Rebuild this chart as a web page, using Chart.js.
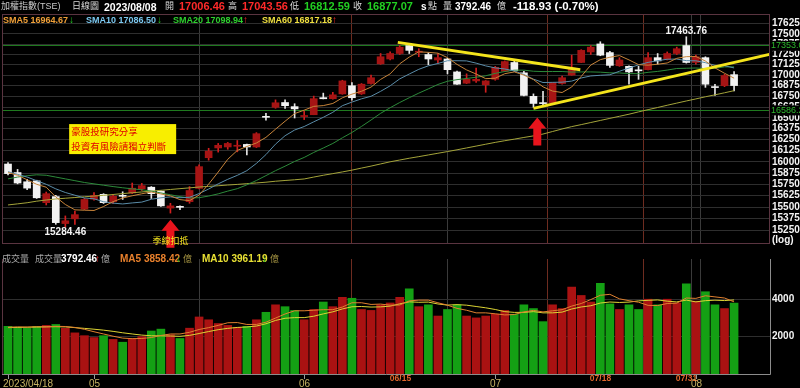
<!DOCTYPE html>
<html>
<head>
<meta charset="utf-8">
<title>加權指數 日線圖</title>
<script src="https://cdn.jsdelivr.net/npm/chart.js@4.4.1/dist/chart.umd.min.js"></script>
<style>
  html, body { margin: 0; padding: 0; background: #000; }
  body { width: 800px; height: 388px; position: relative; overflow: hidden;
         font-family: "Liberation Sans", Arial, "Noto Sans CJK TC", sans-serif; }
  canvas { position: absolute; left: 0; }
  #priceChart { top: 0; }
  #volumeChart { top: 251px; }
  .t { position: absolute; white-space: nowrap; line-height: 1; font-size: 10px; color: #d8d8d8; }
  .c { font-size: 9px; }
  .b { font-weight: bold; }
  .red { color: #ff2a2a; }
  .grn { color: #22d022; }
  .w { color: #fff; }
</style>
</head>
<body>
<canvas id="priceChart" width="800" height="251"></canvas>
<canvas id="volumeChart" width="800" height="137"></canvas>

<!-- header row -->
<span class="t c" style="left:1px;top:2px;color:#c8c8c8">加權指數(TSE)</span>
<span class="t c" style="left:72px;top:2px">日線圖</span>
<span class="t b w" style="left:104px;top:2px;font-size:10.5px">2023/08/08</span>
<span class="t c" style="left:165px;top:2px">開</span>
<span class="t b red" style="left:179px;top:1px;font-size:11px">17006.46</span>
<span class="t c" style="left:228px;top:2px">高</span>
<span class="t b red" style="left:242px;top:1px;font-size:11px">17043.56</span>
<span class="t c" style="left:290px;top:2px">低</span>
<span class="t b grn" style="left:304px;top:1px;font-size:11px">16812.59</span>
<span class="t c" style="left:353px;top:2px">收</span>
<span class="t b grn" style="left:367px;top:1px;font-size:11px">16877.07</span>
<span class="t b w" style="left:421px;top:2px">s</span>
<span class="t c" style="left:428px;top:2px">點</span>
<span class="t c" style="left:443px;top:2px">量</span>
<span class="t b w" style="left:455px;top:2px">3792.46</span>
<span class="t c" style="left:497px;top:2px">億</span>
<span class="t b w" style="left:513px;top:1px;font-size:11.5px">-118.93 (-0.70%)</span>

<!-- moving average row -->
<span class="t b" style="left:3px;top:16px;font-size:9px;color:#f0a038">SMA5 16964.67</span>
<span class="t grn b" style="left:69px;top:15px;font-size:10px">↓</span>
<span class="t b" style="left:86px;top:16px;font-size:9px;color:#7cc8f0">SMA10 17086.50</span>
<span class="t grn b" style="left:157px;top:15px;font-size:10px">↓</span>
<span class="t b" style="left:173px;top:16px;font-size:9px;color:#2ed02e">SMA20 17098.94</span>
<span class="t red b" style="left:243px;top:15px;font-size:10px">↑</span>
<span class="t b" style="left:262px;top:16px;font-size:9px;color:#f0e040">SMA60 16817.18</span>
<span class="t red b" style="left:332px;top:15px;font-size:10px">↑</span>

<!-- volume row -->
<span class="t c" style="left:2px;top:255px;color:#a8a8a8">成交量</span>
<span class="t c" style="left:35px;top:255px;color:#a8a8a8">成交量</span>
<span class="t b w" style="left:61px;top:254px">3792.46</span>
<span class="t red b" style="left:95px;top:254px">↑</span>
<span class="t c" style="left:101px;top:255px;color:#a8a8a8">億</span>
<span class="t b" style="left:120px;top:254px;color:#e8802c">MA5 3858.42</span>
<span class="t grn b" style="left:176px;top:254px">↓</span>
<span class="t c" style="left:183px;top:255px;color:#a09040">億</span>
<span class="t b" style="left:202px;top:254px;color:#e8e034">MA10 3961.19</span>
<span class="t grn b" style="left:262px;top:254px">↓</span>
<span class="t c" style="left:270px;top:255px;color:#a09040">億</span>

<script>
// daily candles, 2023/04/18 .. 2023/08/08 (index = trading day)
const opens = [15975, 15880, 15778, 15788, 15549, 15615, 15323, 15374, 15479, 15587,
  15640, 15560, 15622, 15655, 15700, 15718, 15676, 15490, 15502, 15560,
  15705, 16046, 16156, 16167, 16175, 16196, 16167, 16512, 16622, 16678,
  16630, 16515, 16536, 16735, 16723, 16779, 16875, 16779, 16901, 17136,
  17194, 17260, 17356, 17276, 17248, 17182, 17194, 17039, 16905, 16932,
  16886, 16951, 17047, 17152, 17028, 16750, 16670, 16675, 16901, 17001,
  17152, 17279, 17376, 17271, 17113, 17106, 17056, 17066, 17210, 17190,
  17260, 17356, 17152, 17210, 16858, 16875, 17006.46];
const highs = [15990, 15915, 15805, 15795, 15665, 15629, 15405, 15458, 15595, 15658,
  15647, 15640, 15668, 15764, 15760, 15725, 15682, 15542, 15514, 15725,
  15967, 16152, 16207, 16218, 16240, 16200, 16330, 16552, 16709, 16709,
  16664, 16575, 16753, 16788, 16798, 16940, 16913, 16901, 17001, 17260,
  17279, 17356, 17376, 17318, 17271, 17260, 17202, 17050, 17016, 17085,
  16936, 17106, 17171, 17171, 17047, 16779, 16810, 16915, 16989, 17240,
  17306, 17356, 17403, 17287, 17210, 17113, 17106, 17271, 17260, 17279,
  17337, 17463.76, 17240, 17221, 16893, 17010, 17043.56];
const lows = [15855, 15755, 15690, 15595, 15524, 15315, 15284.46, 15315, 15472, 15576,
  15540, 15540, 15584, 15647, 15682, 15594, 15507, 15436, 15472, 15542,
  15700, 16018, 16109, 16141, 16112, 16077, 16160, 16472, 16611, 16608,
  16498, 16480, 16536, 16720, 16716, 16775, 16704, 16772, 16893, 17130,
  17182, 17248, 17260, 17221, 17124, 17144, 17016, 16890, 16900, 16913,
  16798, 16940, 17045, 17047, 16755, 16622, 16650, 16670, 16893, 17000,
  17150, 17248, 17233, 17094, 17106, 16893, 16951, 17062, 17133, 17182,
  17248, 17144, 17133, 16856, 16761, 16864, 16812.59];
const closes = [15868, 15764, 15708, 15602, 15647, 15333, 15353, 15419, 15584, 15629,
  15549, 15619, 15618, 15707, 15735, 15647, 15514, 15514, 15498, 15682,
  15946, 16120, 16186, 16207, 16180, 16167, 16318, 16506, 16675, 16641,
  16604, 16520, 16723, 16722, 16768, 16932, 16734, 16893, 16970, 17221,
  17260, 17337, 17298, 17282, 17194, 17210, 17066, 16893, 16951, 16951,
  16932, 17094, 17163, 17054, 16761, 16667, 16665, 16913, 16970, 17085,
  17298, 17337, 17240, 17117, 17182, 17039, 17052, 17210, 17171, 17260,
  17318, 17152, 17221, 16893, 16853, 16996, 16877.07];

// moving averages as drawn on the chart
const sma5 = [15880, 15850, 15800, 15750, 15718, 15611, 15529, 15471, 15467, 15464,
  15507, 15560, 15600, 15624, 15646, 15665, 15644, 15623, 15582, 15571,
  15631, 15752, 15886, 16028, 16128, 16172, 16212, 16276, 16369, 16461,
  16549, 16589, 16633, 16642, 16667, 16733, 16776, 16810, 16859, 16950,
  17016, 17136, 17217, 17280, 17274, 17264, 17210, 17129, 17063, 17014,
  16959, 16964, 17018, 17039, 17001, 16948, 16862, 16812, 16795, 16860,
  16986, 17121, 17186, 17215, 17235, 17183, 17126, 17120, 17131, 17146,
  17202, 17222, 17224, 17169, 17087, 17023, 16964.67];
const sma10 = [15890, 15860, 15830, 15790, 15750, 15700, 15660, 15630, 15600, 15591,
  15559, 15544, 15535, 15546, 15555, 15586, 15602, 15612, 15603, 15608,
  15648, 15698, 15755, 15805, 15849, 15901, 15982, 16081, 16199, 16295,
  16360, 16400, 16454, 16506, 16564, 16641, 16683, 16721, 16751, 16809,
  16874, 16956, 17014, 17070, 17112, 17140, 17173, 17173, 17171, 17144,
  17111, 17087, 17074, 17051, 17008, 16953, 16913, 16915, 16917, 16930,
  16967, 16991, 16999, 17005, 17047, 17085, 17123, 17153, 17173, 17191,
  17193, 17174, 17172, 17150, 17117, 17113, 17086.50];
const sma20 = [15810, 15830, 15845, 15855, 15850, 15830, 15810, 15790, 15770, 15755,
  15740, 15725, 15712, 15700, 15690, 15675, 15655, 15635, 15615, 15600,
  15603, 15621, 15645, 15675, 15702, 15744, 15792, 15846, 15901, 15951,
  16004, 16049, 16105, 16155, 16207, 16271, 16332, 16401, 16475, 16552,
  16617, 16678, 16734, 16788, 16838, 16890, 16928, 16947, 16961, 16976,
  16993, 17022, 17044, 17060, 17060, 17047, 17043, 17044, 17044, 17037,
  17039, 17039, 17036, 17028, 17027, 17019, 17018, 17034, 17045, 17061,
  17080, 17083, 17086, 17078, 17082, 17099, 17098.94];
const sma60 = [15524, 15536, 15548, 15565, 15578, 15589, 15597, 15605, 15613, 15621,
  15629, 15638, 15648, 15657, 15666, 15675, 15684, 15693, 15702, 15711,
  15720, 15727, 15734, 15742, 15749, 15757, 15765, 15773, 15784, 15792,
  15800, 15809, 15830, 15850, 15868, 15887, 15907, 15930, 15952, 15976,
  16000, 16020, 16040, 16058, 16077, 16096, 16115, 16135, 16156, 16177,
  16198, 16219, 16238, 16256, 16275, 16293, 16314, 16343, 16372, 16399,
  16422, 16446, 16470, 16494, 16518, 16542, 16569, 16595, 16620, 16646,
  16671, 16696, 16720, 16745, 16768, 16792, 16817.18];

// turnover (億)
const volumes = [2550, 2500, 2450, 2550, 2600, 2650, 2450, 2200, 2050, 1950,
  2050, 1850, 1700, 1900, 2000, 2300, 2400, 2100, 1900, 2450,
  3050, 2900, 2700, 2600, 2500, 2550, 2900, 3300, 3700, 3600,
  3400, 2900, 3450, 3850, 3600, 4100, 4050, 3450, 3400, 3700,
  3800, 4100, 4550, 3600, 3700, 3100, 3450, 3700, 3100, 3000,
  3100, 3200, 3400, 3200, 3700, 3500, 2800, 3700, 3500, 4650,
  4200, 3850, 4850, 3750, 3450, 3700, 3450, 4000, 3700, 4000,
  3800, 4820, 3900, 4400, 3700, 3500, 3792.46];
const volMa5 = [2500, 2520, 2510, 2530, 2530, 2550, 2540, 2490, 2390, 2260,
  2140, 2020, 1920, 1890, 1900, 1950, 2060, 2140, 2140, 2230,
  2380, 2480, 2600, 2740, 2750, 2650, 2650, 2770, 2990, 3210,
  3380, 3380, 3410, 3440, 3440, 3580, 3810, 3810, 3720, 3740,
  3680, 3690, 3910, 3950, 3950, 3810, 3680, 3510, 3410, 3270,
  3270, 3220, 3160, 3180, 3320, 3400, 3320, 3380, 3440, 3630,
  3770, 3980, 4210, 4260, 4020, 3920, 3840, 3670, 3660, 3770,
  3790, 4064, 4044, 4184, 4124, 4064, 3858.42];
const volMa10 = [2480, 2490, 2500, 2510, 2520, 2530, 2520, 2480, 2440, 2395,
  2345, 2280, 2205, 2140, 2080, 2045, 2040, 2030, 2015, 2065,
  2165, 2270, 2370, 2440, 2490, 2515, 2565, 2685, 2865, 2980,
  3015, 3015, 3090, 3215, 3325, 3480, 3595, 3610, 3580, 3590,
  3630, 3750, 3860, 3835, 3845, 3745, 3685, 3710, 3680, 3610,
  3540, 3450, 3335, 3295, 3295, 3335, 3270, 3270, 3310, 3475,
  3585, 3650, 3795, 3850, 3825, 3845, 3910, 3940, 3960, 3895,
  3855, 3952, 3857, 3922, 3947, 3927, 3961.19];

// axis ticks
const priceTicks = [15250, 15375, 15500, 15625, 15750, 15875, 16000, 16125, 16250,
  16375, 16500, 16625, 16750, 16875, 17000, 17125, 17250, 17375, 17500, 17625];
const keyLevels = [17353.0, 16586.2];
const volumeTicks = [2000, 4000];
const dateTicks = [0, 9, 31, 41, 51, 62, 71, 72];
const dateLabels = ['2023/04/18', '05', '06', '06/15', '07', '07/18', '07/31', '08'];
const markedDates = ['06/15', '07/18', '07/31'];

// drawn trend lines [day index, price]
const trendDown = [[40.8, 17395], [59.9, 17066]];
const trendUp = [[55.0, 16610], [79.7, 17250]];

// annotations
const noteLines = ['豪股投研究分享', '投資有風險請獨立判斷'];
const noteAt = [6.4, 16428];
const arrowTips = [[17, 15364], [55.4, 16505]];
const arrowText = '季線扣抵';

const X_MIN = -0.63, X_MAX = 79.76;
const days = closes.map((c, i) => i);
const isUp = days.map(i => closes[i] >= opens[i]);

const FONT = '"Liberation Sans", Arial, sans-serif';
const CJK = '"Noto Sans CJK TC", sans-serif';

function sized(scale, w) { scale.width = w; }

function xAxis() {
  return {
    type: 'linear', min: X_MIN, max: X_MAX, offset: false,
    afterBuildTicks: s => { s.ticks = dateTicks.slice(1).map(v => ({ value: v })); },
    ticks: { display: false },
    grid: {
      drawTicks: false,
      color: ctx => {
        const k = dateTicks.indexOf(ctx.tick && ctx.tick.value);
        return markedDates.includes(dateLabels[k]) ? '#6e2c20' : '#3a3a3a';
      }
    },
    border: { display: false }
  };
}

function upArrow(ctx, cx, tip, len) {
  ctx.beginPath();
  ctx.moveTo(cx, tip);
  ctx.lineTo(cx + 9, tip + 11);
  ctx.lineTo(cx + 4, tip + 11);
  ctx.lineTo(cx + 4, tip + len);
  ctx.lineTo(cx - 4, tip + len);
  ctx.lineTo(cx - 4, tip + 11);
  ctx.lineTo(cx - 9, tip + 11);
  ctx.closePath();
  ctx.fill();
}

const priceDecor = {
  id: 'priceDecor',
  afterDatasetsDraw(chart) {
    const { ctx, chartArea: a, scales: { x, y } } = chart;
    ctx.save();
    ctx.strokeStyle = '#5a3440';
    ctx.lineWidth = 1;
    ctx.strokeRect(a.left + 0.5, a.top + 0.5, a.right - a.left - 1, a.bottom - a.top);

    // note box
    const bx = x.getPixelForValue(noteAt[0]), by = y.getPixelForValue(noteAt[1]);
    ctx.fillStyle = '#f8ee00';
    ctx.fillRect(bx, by, 107, 30);
    ctx.fillStyle = '#e00000';
    ctx.font = '9.5px ' + CJK;
    ctx.textBaseline = 'middle';
    ctx.textAlign = 'left';
    ctx.fillText(noteLines[0], bx + 2, by + 7);
    ctx.fillText(noteLines[1], bx + 2, by + 22);

    // arrows
    ctx.fillStyle = '#e8141c';
    arrowTips.forEach(([d, p]) => upArrow(ctx, x.getPixelForValue(d), y.getPixelForValue(p), 28));
    ctx.fillStyle = '#f2e21e';
    ctx.font = '9px ' + CJK;
    ctx.textAlign = 'center';
    ctx.fillText(arrowText, x.getPixelForValue(arrowTips[0][0]), 241);

    // extremes
    ctx.fillStyle = '#f4f4f4';
    ctx.font = 'bold 10px ' + FONT;
    const lo = lows.indexOf(Math.min(...lows));
    const hi = highs.indexOf(Math.max(...highs));
    ctx.textBaseline = 'top';
    ctx.fillText(lows[lo].toFixed(2), x.getPixelForValue(lo), y.getPixelForValue(lows[lo]) + 0.5);
    ctx.textBaseline = 'bottom';
    ctx.fillText(highs[hi].toFixed(2), x.getPixelForValue(hi), y.getPixelForValue(highs[hi]) - 0.5);

    ctx.textAlign = 'left';
    ctx.textBaseline = 'middle';
    ctx.fillText('(log)', a.right + 2, a.bottom - 3);
    ctx.restore();
  },
  afterDraw(chart) {
    // key level tags on the price axis, boxed over the regular labels
    const { ctx, chartArea: a, scales: { y } } = chart;
    ctx.save();
    ctx.font = '9px ' + FONT;
    ctx.textAlign = 'left';
    ctx.textBaseline = 'middle';
    keyLevels.forEach(v => {
      const py = y.getPixelForValue(v);
      ctx.fillStyle = '#000';
      ctx.fillRect(a.right + 1, py - 5, 29, 10);
      ctx.fillStyle = '#2cb82c';
      ctx.fillText(v.toFixed(1), a.right + 1, py);
    });
    ctx.restore();
  }
};

const volumeDecor = {
  id: 'volumeDecor',
  afterDatasetsDraw(chart) {
    const { ctx, chartArea: a, scales: { x } } = chart;
    ctx.save();
    ctx.strokeStyle = '#8c8c8c';
    ctx.lineWidth = 1;
    ctx.beginPath();
    ctx.moveTo(a.left, a.bottom + 0.5);
    ctx.lineTo(a.right + 0.5, a.bottom + 0.5);
    ctx.lineTo(a.right + 0.5, a.top);
    ctx.stroke();
    ctx.strokeStyle = '#5a3440';
    ctx.beginPath();
    ctx.moveTo(a.left + 0.5, a.top);
    ctx.lineTo(a.left + 0.5, a.bottom);
    ctx.stroke();

    dateTicks.forEach((d, k) => {
      const px = Math.round(x.getPixelForValue(d)) + 0.5;
      const marked = markedDates.includes(dateLabels[k]);
      ctx.strokeStyle = '#9a9a9a';
      ctx.beginPath();
      ctx.moveTo(px, a.bottom + 1);
      ctx.lineTo(px, a.bottom + 5);
      ctx.stroke();
      ctx.textBaseline = 'middle';
      if (marked) {
        ctx.fillStyle = '#e0662c';
        ctx.font = 'bold 8.5px ' + FONT;
        ctx.textAlign = 'center';
        ctx.fillText(dateLabels[k], px, a.bottom + 5);
      } else {
        ctx.fillStyle = '#c8b464';
        ctx.font = '10px ' + FONT;
        ctx.textAlign = k === 0 ? 'left' : 'center';
        ctx.fillText(dateLabels[k], k === 0 ? 3 : px, a.bottom + 10);
      }
    });
    ctx.restore();
  }
};

const maLine = (data, color) => ({
  type: 'line',
  data: data.map((v, i) => ({ x: i, y: v })),
  borderColor: color, borderWidth: 1, pointRadius: 0, tension: 0, order: 1
});
const segment = (pts, color, w) => ({
  type: 'line',
  data: pts.map(([d, p]) => ({ x: d, y: p })),
  borderColor: color, borderWidth: w, pointRadius: 0, order: 0
});

new Chart(document.getElementById('priceChart'), {
  type: 'bar',
  data: {
    datasets: [
      segment(trendDown, '#f4e41c', 3),
      segment(trendUp, '#f4e41c', 3),
      maLine(sma5, '#c8843a'),
      maLine(sma10, '#5a8ca8'),
      maLine(sma20, '#2c8a3a'),
      maLine(sma60, '#a4a43a'),
      {
        data: days.map(i => ({ x: i, y: [opens[i], closes[i]] })),
        backgroundColor: days.map(i => isUp[i] ? '#a61414' : '#f2f2f2'),
        barThickness: 7, minBarLength: 1, grouped: false, order: 5
      },
      {
        data: days.map(i => ({ x: i, y: [lows[i], highs[i]] })),
        backgroundColor: days.map(i => isUp[i] ? '#d21e1e' : '#e4e4e4'),
        barThickness: 1, grouped: false, order: 6
      }
    ]
  },
  options: {
    responsive: false,
    animation: false,
    events: [],
    layout: { padding: { top: 14, left: 2, right: 0, bottom: 0 } },
    plugins: { legend: { display: false }, tooltip: { enabled: false } },
    scales: {
      x: xAxis(),
      y: {
        type: 'logarithmic', position: 'right', min: 15116, max: 17744,
        afterBuildTicks: s => { s.ticks = priceTicks.concat(keyLevels).map(v => ({ value: v })); },
        afterFit: s => sized(s, 30),
        ticks: {
          autoSkip: false, padding: 2,
          callback: v => keyLevels.includes(v) ? '' : String(v),
          color: '#f4f4f4',
          font: { family: FONT, size: 10, weight: 'bold' }
        },
        grid: {
          drawTicks: false,
          color: ctx => keyLevels.includes(ctx.tick && ctx.tick.value) ? '#1f7a1f' : '#2e2e2e'
        },
        border: { display: false }
      }
    }
  },
  plugins: [priceDecor]
});

new Chart(document.getElementById('volumeChart'), {
  type: 'bar',
  data: {
    datasets: [
      maLine(volMa5, '#e08030'),
      maLine(volMa10, '#dcd434'),
      {
        data: days.map(i => ({ x: i, y: volumes[i] })),
        backgroundColor: days.map(i => isUp[i] ? '#aa1212' : '#14a014'),
        barThickness: 8, grouped: false, order: 5
      }
    ]
  },
  options: {
    responsive: false,
    animation: false,
    events: [],
    layout: { padding: { top: 0, left: 2, right: 0, bottom: 14 } },
    plugins: { legend: { display: false }, tooltip: { enabled: false } },
    scales: {
      x: xAxis(),
      y: {
        position: 'right', min: 0, max: 6150,
        afterBuildTicks: s => { s.ticks = volumeTicks.map(v => ({ value: v })); },
        afterFit: s => sized(s, 30),
        ticks: {
          padding: 2, color: '#f4f4f4', callback: v => String(v),
          font: { family: FONT, size: 10, weight: 'bold' }
        },
        grid: { drawTicks: false, color: '#2e2e2e' },
        border: { display: false }
      }
    }
  },
  plugins: [volumeDecor]
});
</script>
</body>
</html>
